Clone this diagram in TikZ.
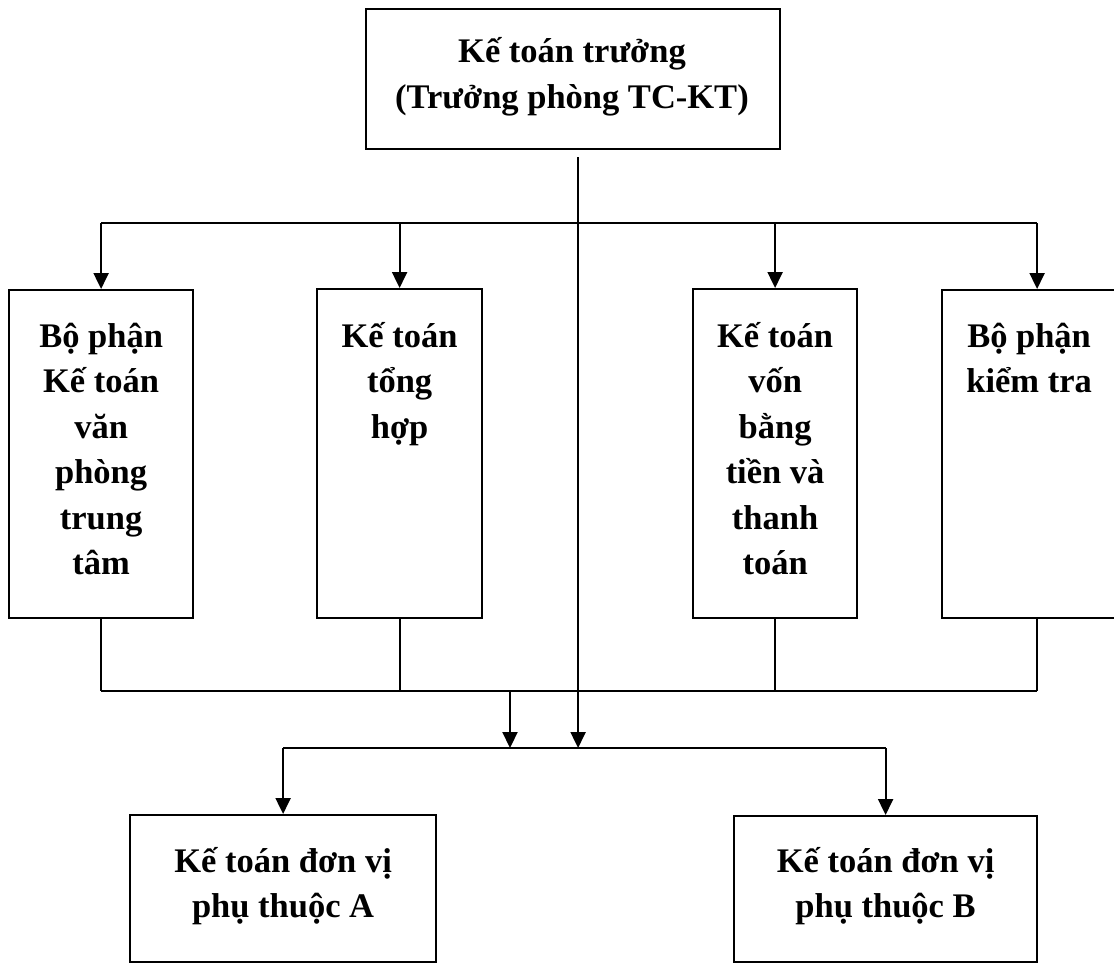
\documentclass[tikz,border=0pt]{standalone}
\usepackage{fontspec}
\setmainfont{Liberation Serif}
\usetikzlibrary{arrows.meta}
\begin{document}
\begin{tikzpicture}[x=1pt,y=-1pt,
  box/.style={draw=black, line width=2.2pt, rectangle, inner sep=0pt, anchor=north west},
  % multi-line labels are placed by the baseline of their last line
  lbl/.style={font=\fontsize{34.5}{45.5}\selectfont\bfseries, align=center, inner sep=0pt, anchor=base},
  wire/.style={line width=2.2pt, draw=black},
  arr/.style={wire, -{Triangle[length=16pt,width=15pt]}}]
\useasboundingbox (0,0) rectangle (1114,963);
\clip (0,0) rectangle (1114,963);

% boxes
\node[box, minimum width=414pt, minimum height=140pt] (top) at (365,8) {};
\node[box, minimum width=184pt, minimum height=328pt] (b1) at (8,289) {};
\node[box, minimum width=165pt, minimum height=329pt] (b2) at (316,288) {};
\node[box, minimum width=164pt, minimum height=329pt] (b3) at (692,288) {};
\node[box, minimum width=190pt, minimum height=328pt] (b4) at (941,289) {};
\node[box, minimum width=306pt, minimum height=147pt] (bA) at (129,814) {};
\node[box, minimum width=303pt, minimum height=146pt] (bB) at (733,815) {};

% labels
\node[lbl] (ltop) at (572,108.5) {Kế toán trưởng\\(Trưởng phòng TC-KT)};
\node[lbl] (l1) at ([yshift=-285.5pt]b1.north) {Bộ phận\\Kế toán\\văn\\phòng\\trung\\tâm};
\node[lbl] (l2) at ([yshift=-150pt]b2.north) {Kế toán\\tổng\\hợp};
\node[lbl] (l3) at ([yshift=-286.5pt]b3.north) {Kế toán\\vốn\\bằng\\tiền và\\thanh\\toán};
\node[lbl] (l4) at ([xshift=-8pt,yshift=-103.5pt]b4.north) {Bộ phận\\kiểm tra};
\node[lbl] (lA) at ([yshift=-103.5pt]bA.north) {Kế toán đơn vị\\phụ thuộc A};
\node[lbl] (lB) at ([yshift=-102.5pt]bB.north) {Kế toán đơn vị\\phụ thuộc B};

% bus levels
\coordinate (busA) at (0,223);
\coordinate (busB) at (0,691);
\coordinate (busC) at (0,748);
\coordinate (merge) at (510,691);

% distribution from the chief accountant
\draw[wire] (b1.north |- busA) -- (b4.north |- busA);
\foreach \b in {b1,b2,b3,b4} \draw[arr] (\b.north |- busA) -- (\b.north);
\draw[arr] ([xshift=5pt,yshift=-7pt]top.south) -- ([xshift=5pt]top.south |- busC);

% collection from the departments
\foreach \b in {b1,b2,b3,b4} \draw[wire] (\b.south) -- (\b.south |- busB);
\draw[wire] (b1.south |- busB) -- (b4.south |- busB);
\draw[arr] (merge) -- (merge |- busC);

% to the dependent units
\draw[wire] (bA.north |- busC) -- (bB.north |- busC);
\draw[arr] (bA.north |- busC) -- (bA.north);
\draw[arr] (bB.north |- busC) -- (bB.north);
\end{tikzpicture}
\end{document}
